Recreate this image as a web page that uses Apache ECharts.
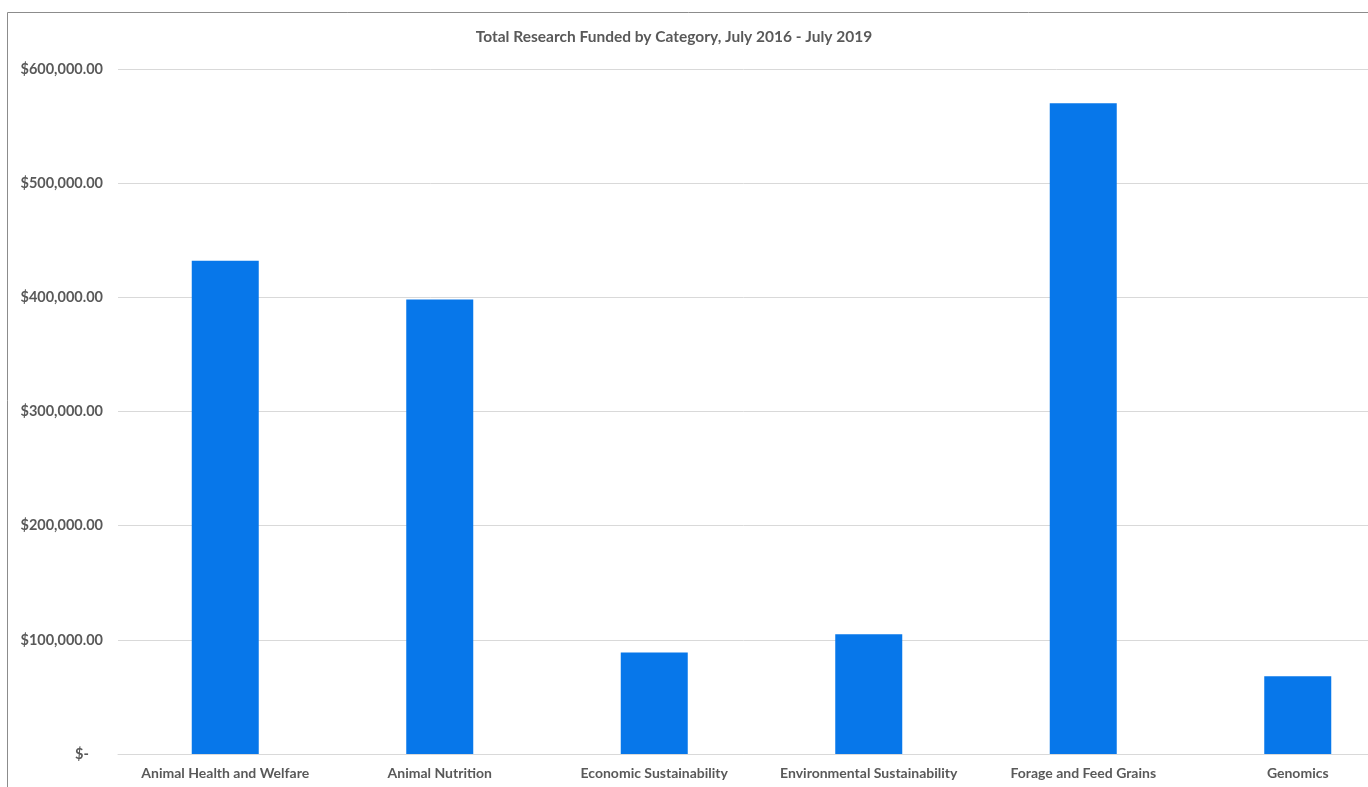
<!DOCTYPE html>
<html>
<head>
<meta charset="utf-8">
<script src="https://cdn.jsdelivr.net/npm/echarts@6/dist/echarts.min.js"></script>
<style>
  html, body { margin: 0; padding: 0; background: #ffffff; }
  #chart { width: 1368px; height: 787px; }
</style>
</head>
<body>
<div id="chart"></div>
<script>
// Research funding totals by category (USD)
const categories = [
  'Animal Health and Welfare',
  'Animal Nutrition',
  'Economic Sustainability',
  'Environmental Sustainability',
  'Forage and Feed Grains',
  'Genomics'
];
const funding = [432000, 398000, 89000, 105000, 570000, 68000];
const titleText = 'Total Research Funded by Category, July 2016 - July 2019';

const FONT = 'Lato, "Open Sans", sans-serif';
const TEXT = '#595959';

function money(v) {
  if (v === 0) return '$-    ';
  return '$' + v.toLocaleString('en-US', { minimumFractionDigits: 2, maximumFractionDigits: 2 });
}

const chart = echarts.init(document.getElementById('chart'), null, { renderer: 'canvas' });
chart.setOption({
  animation: false,
  backgroundColor: '#ffffff',
  graphic: [{
    type: 'rect',
    shape: { x: 7.5, y: 12.5, width: 1400, height: 820 },
    style: { fill: 'none', stroke: '#8c8c8c', lineWidth: 1 },
    silent: true,
    z: -1
  }],
  title: {
    text: titleText,
    left: 674,
    textAlign: 'center',
    top: 29,
    padding: 0,
    textStyle: { fontFamily: FONT, fontSize: 15.5, fontWeight: 'bold', color: TEXT }
  },
  grid: {
    left: 118, top: 69, width: 1287, height: 685,
    containLabel: false,
    outerBoundsMode: 'none'
  },
  xAxis: {
    type: 'category',
    data: categories,
    axisLine: { show: true, lineStyle: { color: '#d9d9d9', width: 1 } },
    axisTick: { show: false },
    axisLabel: {
      interval: 0,
      margin: 12,
      fontFamily: FONT, fontSize: 14, fontWeight: 'bold', color: TEXT
    }
  },
  yAxis: {
    type: 'value',
    min: 0,
    max: 600000,
    interval: 100000,
    axisLine: { show: false },
    axisTick: { show: false },
    splitLine: { lineStyle: { color: '#d9d9d9', width: 1 } },
    axisLabel: {
      margin: 15,
      formatter: money,
      fontFamily: FONT, fontSize: 14.5, fontWeight: 'bold', color: TEXT
    }
  },
  series: [{
    type: 'bar',
    data: funding,
    barWidth: 67,
    itemStyle: { color: '#0777EA' }
  }]
});
</script>
</body>
</html>
